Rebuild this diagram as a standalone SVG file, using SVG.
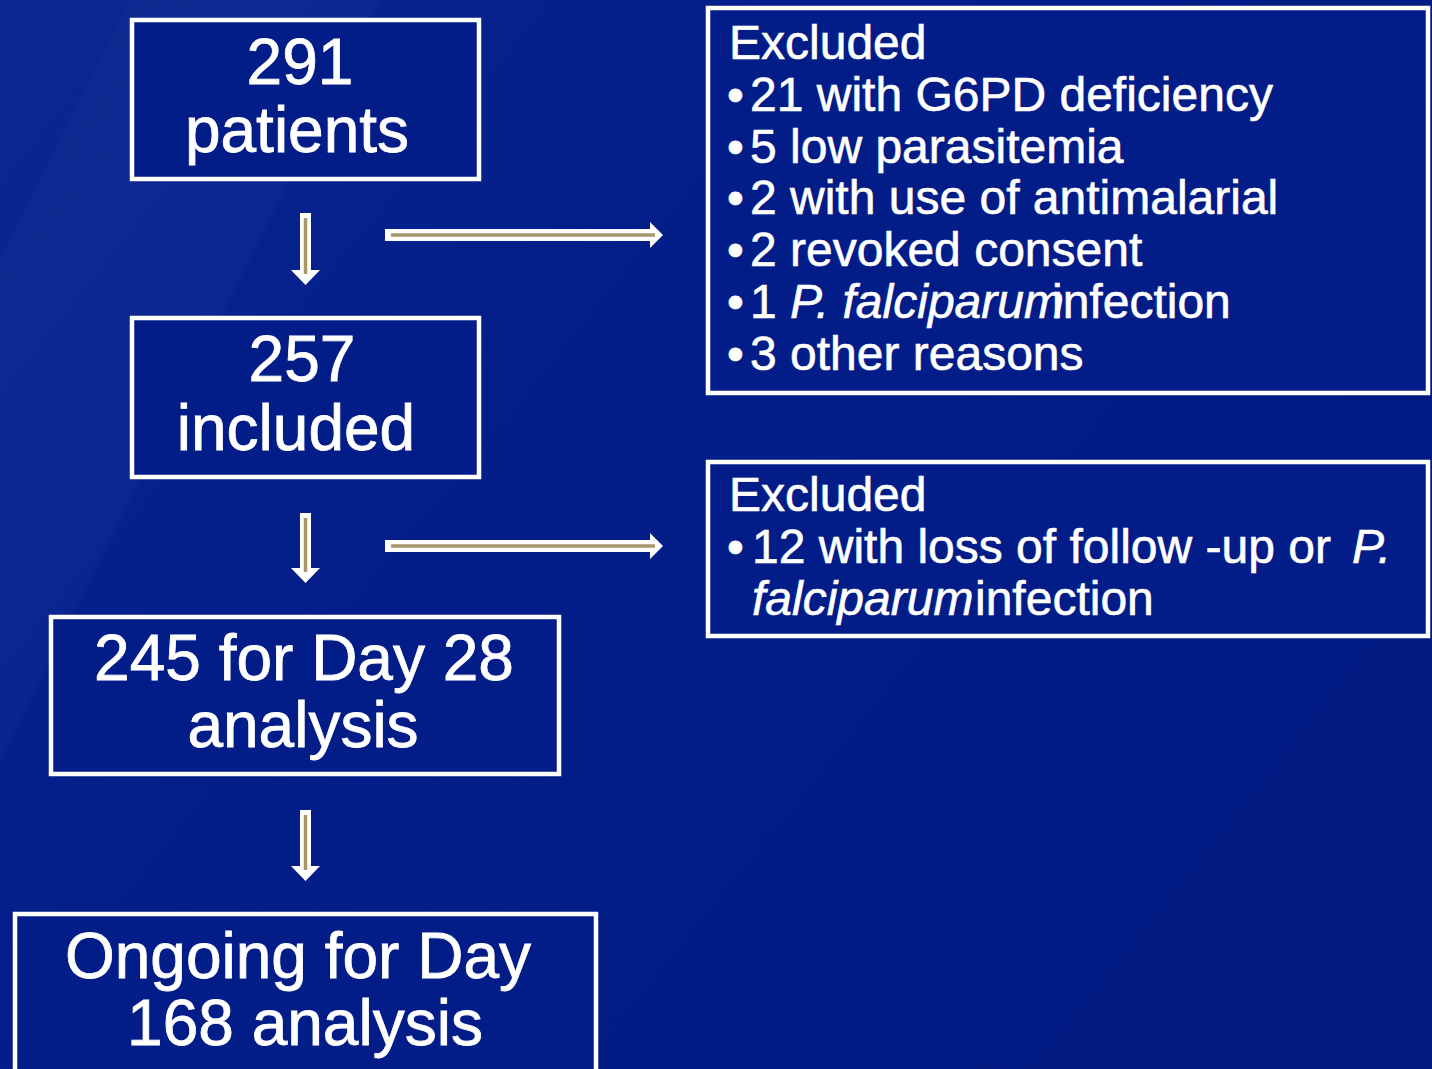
<svg xmlns="http://www.w3.org/2000/svg" width="1432" height="1069" viewBox="0 0 1432 1069">
<defs>
<linearGradient id="bg" x1="0" y1="0" x2="1" y2="0.6">
<stop offset="0" stop-color="#0b2892"/>
<stop offset="0.35" stop-color="#041f8a"/>
<stop offset="1" stop-color="#001a82"/>
</linearGradient>
<style>
.box{fill:#031d88;stroke:#ffffff;stroke-width:4.5}
.big{font-family:"Liberation Sans",Arial,sans-serif;font-size:64px;fill:#ffffff;stroke:#ffffff;stroke-width:0.8;text-anchor:middle}
.mid{font-family:"Liberation Sans",Arial,sans-serif;font-size:48px;fill:#ffffff;stroke:#ffffff;stroke-width:0.6}
.it{font-style:italic}
.arw{fill:#ffffff}
.gold{stroke:#a8976a;stroke-width:3.5;fill:none}
</style>
</defs>
<rect width="1432" height="1069" fill="url(#bg)"/>
<path d="M0,260 L130,0 L380,0 L0,760 Z" fill="#ffffff" opacity="0.025"/>
<g id="connectors">
<g id="down1"><path class="arw" d="M300,213 H311 V270 H320 L305.5,285 L291,270 H300 Z"/><line class="gold" x1="305.5" y1="218" x2="305.5" y2="274"/></g>
<g id="down2"><path class="arw" d="M300,513 H311 V568 H320 L305.5,583 L291,568 H300 Z"/><line class="gold" x1="305.5" y1="518" x2="305.5" y2="572"/></g>
<g id="down3"><path class="arw" d="M300,810 H311 V866 H320 L305.5,881 L291,866 H300 Z"/><line class="gold" x1="305.5" y1="815" x2="305.5" y2="870"/></g>
<g id="right1"><path class="arw" d="M385,229 H650 V222 L663,235 L650,248 V241 H385 Z"/><line class="gold" x1="391" y1="235" x2="655" y2="235"/></g>
<g id="right2"><path class="arw" d="M385,540 H650 V533 L663,546 L650,559 V552 H385 Z"/><line class="gold" x1="391" y1="546" x2="655" y2="546"/></g>
</g>
<g id="n291">
<rect class="box" x="132" y="20" width="347" height="159"/>
<text class="big" x="300" y="84">291</text>
<text class="big" x="297" y="152">patients</text>
</g>
<g id="n257">
<rect class="box" x="132" y="318" width="347" height="159"/>
<text class="big" x="302" y="381">257</text>
<text class="big" x="296" y="450">included</text>
</g>
<g id="n245">
<rect class="box" x="51" y="617" width="508" height="157"/>
<text class="big" x="304" y="680">245 for Day 28</text>
<text class="big" x="303" y="747">analysis</text>
</g>
<g id="n168">
<rect class="box" x="15" y="914" width="581" height="170"/>
<text class="big" x="298" y="978">Ongoing for Day</text>
<text class="big" x="305" y="1045">168 analysis</text>
</g>
<g id="excl1">
<rect class="box" x="708" y="8" width="720" height="385"/>
<text class="mid" x="729" y="59">Excluded</text>
<text class="mid" x="727" y="111">•</text><text class="mid" x="750" y="111">21 with G6PD deficiency</text>
<text class="mid" x="727" y="163">•</text><text class="mid" x="750" y="163">5 low parasitemia</text>
<text class="mid" x="727" y="214">•</text><text class="mid" x="750" y="214">2 with use of antimalarial</text>
<text class="mid" x="727" y="266">•</text><text class="mid" x="750" y="266">2 revoked consent</text>
<text class="mid" x="727" y="318">•</text><text class="mid" x="750" y="318">1 <tspan class="it">P. falciparum</tspan><tspan x="1052">infection</tspan></text>
<text class="mid" x="727" y="370">•</text><text class="mid" x="750" y="370">3 other reasons</text>
</g>
<g id="excl2">
<rect class="box" x="708" y="462" width="720" height="174"/>
<text class="mid" x="729" y="511">Excluded</text>
<text class="mid" x="727" y="563">•</text><text class="mid" x="752" y="563">12 with loss of follow -up or <tspan class="it" x="1352">P.</tspan></text>
<text class="mid" x="752" y="615"><tspan class="it">falciparum</tspan><tspan x="975">infection</tspan></text>
</g>
</svg>
